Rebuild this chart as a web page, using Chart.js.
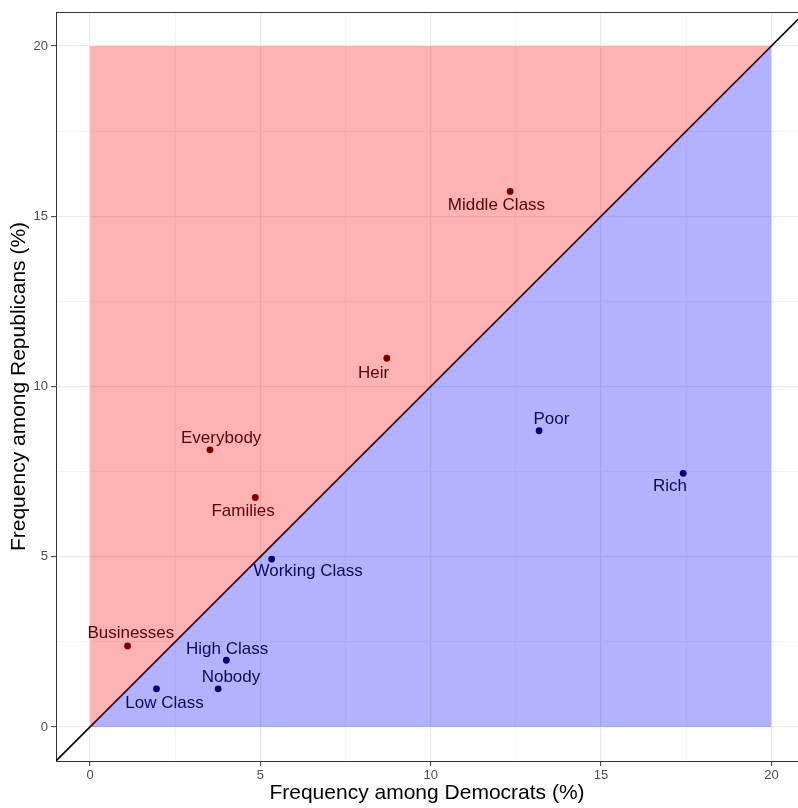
<!DOCTYPE html>
<html>
<head>
<meta charset="utf-8">
<script src="https://cdn.jsdelivr.net/npm/chart.js@4.4.0/dist/chart.umd.min.js"></script>
<style>
  html, body { margin: 0; padding: 0; background: #ffffff; overflow: hidden; }
  #wrap { width: 798px; height: 808px; }
</style>
</head>
<body>
<div id="wrap"><canvas id="c" width="798" height="808" style="width:798px;height:808px"></canvas></div>
<script>
// ---- data ----
const terms   = ['Middle Class', 'Heir', 'Everybody', 'Families', 'Businesses',
                 'Poor', 'Rich', 'Working Class', 'High Class', 'Nobody', 'Low Class'];
const demFreq = [12.33, 8.71, 3.52, 4.85, 1.10, 13.18, 17.41, 5.33, 4.00, 3.76, 1.95];
const repFreq = [15.73, 10.83, 8.14, 6.74, 2.38, 8.70, 7.45, 4.93, 1.96, 1.12, 1.12];
const regionEdge = [0, 20];          // shaded triangles span 0..20
const diagonalSpan = [-1, 21];       // y = x reference line
const majorTicks = [0, 5, 10, 15, 20];

// ---- presentation (label offsets in pixels, like ggrepel placement) ----
const labelOffsets = [
  [-13.7, 14.3], [-13.3, 14.6], [11.2, -11.6], [-12.2, 13.7], [3.3, -12.4],
  [12.3, -11.0], [-13.2, 13.0], [36.5, 12.7], [0.8, -11.0], [12.8, -11.4], [8.0, 14.6]
];

const redPts = [], bluePts = [];
terms.forEach((t, i) => {
  const p = { x: demFreq[i], y: repFreq[i], label: t, idx: i };
  (repFreq[i] > demFreq[i] ? redPts : bluePts).push(p);
});

const diagRegion = regionEdge.map(v => ({ x: v, y: v }));
const diagLine = diagonalSpan.map(v => ({ x: v, y: v }));

const FONT = "'Liberation Sans', Arial, Helvetica, sans-serif";

const labelPlugin = {
  id: 'pointLabels',
  afterDatasetsDraw(chart) {
    const ctx = chart.ctx;
    const xs = chart.scales.x, ys = chart.scales.y;
    const area = chart.chartArea;
    ctx.save();
    ctx.beginPath();
    ctx.rect(area.left, area.top, area.right - area.left, area.bottom - area.top);
    ctx.clip();
    ctx.font = '17px ' + FONT;
    ctx.textAlign = 'center';
    ctx.textBaseline = 'middle';
    terms.forEach((t, i) => {
      const px = xs.getPixelForValue(demFreq[i]) + labelOffsets[i][0];
      const py = ys.getPixelForValue(repFreq[i]) + labelOffsets[i][1];
      ctx.fillStyle = repFreq[i] > demFreq[i] ? '#560606' : '#0c0c52';
      ctx.fillText(t, px, py);
    });
    ctx.restore();
    // top panel border
    ctx.save();
    ctx.strokeStyle = '#333333';
    ctx.lineWidth = 1;
    ctx.beginPath();
    ctx.moveTo(area.left, Math.round(area.top) + 0.5);
    ctx.lineTo(chart.width, Math.round(area.top) + 0.5);
    ctx.stroke();
    ctx.restore();
  }
};

const isMajor = v => majorTicks.includes(v);

new Chart(document.getElementById('c'), {
  type: 'scatter',
  data: {
    datasets: [
      {
        label: 'rep-region', data: diagRegion, showLine: true,
        borderWidth: 0, borderColor: 'rgba(0,0,0,0)', pointRadius: 0,
        backgroundColor: 'rgba(255,0,0,0.3)',
        fill: { target: { value: regionEdge[1] } }
      },
      {
        label: 'dem-region', data: diagRegion, showLine: true,
        borderWidth: 0, borderColor: 'rgba(0,0,0,0)', pointRadius: 0,
        backgroundColor: 'rgba(0,0,255,0.3)',
        fill: { target: { value: regionEdge[0] } }
      },
      {
        label: 'diagonal', data: diagLine, showLine: true,
        borderColor: '#000000', borderWidth: 1.6, pointRadius: 0, fill: false
      },
      {
        label: 'rep', data: redPts, pointRadius: 3.4, pointHoverRadius: 3.4,
        backgroundColor: '#3e0000', borderColor: '#3e0000', borderWidth: 0
      },
      {
        label: 'dem', data: bluePts, pointRadius: 3.4, pointHoverRadius: 3.4,
        backgroundColor: '#00003e', borderColor: '#00003e', borderWidth: 0
      }
    ]
  },
  options: {
    responsive: false,
    animation: false,
    events: [],
    layout: { autoPadding: false, padding: { top: 12, right: 0, bottom: 0, left: 0 } },
    plugins: { legend: { display: false }, tooltip: { enabled: false } },
    scales: {
      x: {
        type: 'linear', min: -1, max: 20.78,
        afterFit(s) { s.height = 47; s.paddingRight = 0; s.paddingLeft = 0; },
        ticks: {
          stepSize: 2.5, includeBounds: false, autoSkip: false, maxRotation: 0,
          padding: 2, color: '#4D4D4D', font: { family: FONT, size: 13 },
          callback: v => isMajor(v) ? String(v) : ''
        },
        grid: {
          color: c => isMajor(c.tick.value) ? '#EBEBEB' : '#F3F3F3',
          lineWidth: c => isMajor(c.tick.value) ? 1.3 : 0.8,
          tickColor: c => isMajor(c.tick.value) ? '#333333' : 'rgba(0,0,0,0)',
          tickLength: 5, tickWidth: 1, drawTicks: true
        },
        border: { display: true, color: '#333333', width: 1 },
        title: {
          display: true, text: 'Frequency among Democrats (%)', color: '#000000',
          font: { family: FONT, size: 21 }, padding: { top: 0, bottom: 2 }
        }
      },
      y: {
        type: 'linear', min: -1, max: 21,
        afterFit(s) { s.width = 56; s.paddingTop = 0; s.paddingBottom = 0; },
        ticks: {
          stepSize: 2.5, includeBounds: false, autoSkip: false,
          padding: 3, color: '#4D4D4D', font: { family: FONT, size: 13 },
          callback: v => isMajor(v) ? String(v) : ''
        },
        grid: {
          color: c => isMajor(c.tick.value) ? '#EBEBEB' : '#F3F3F3',
          lineWidth: c => isMajor(c.tick.value) ? 1.3 : 0.8,
          tickColor: c => isMajor(c.tick.value) ? '#333333' : 'rgba(0,0,0,0)',
          tickLength: 5, tickWidth: 1, drawTicks: true
        },
        border: { display: true, color: '#333333', width: 1 },
        title: {
          display: true, text: 'Frequency among Republicans (%)', color: '#000000',
          font: { family: FONT, size: 21 }, padding: { top: 7, bottom: 0 }
        }
      }
    }
  },
  plugins: [labelPlugin]
});
</script>
</body>
</html>
